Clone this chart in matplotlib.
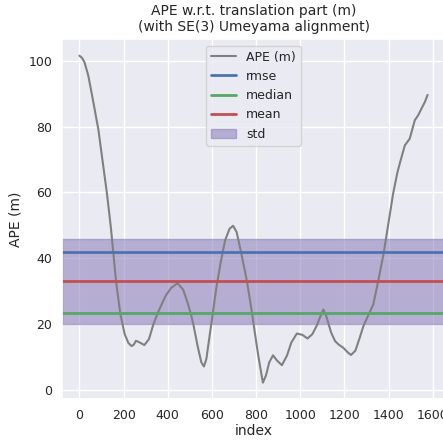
import numpy as np
import matplotlib
matplotlib.use("Agg")
import matplotlib.pyplot as plt
import seaborn as sns

# --- data ---
index = [0, 12, 23, 40, 60, 86, 105, 125, 143, 166, 185, 205, 222, 236, 246, 256,
         270, 294, 315, 335, 354, 372, 391, 415, 444, 470, 490, 504, 516, 535,
         552, 564, 575, 597, 620, 639, 660, 680, 696, 712, 732, 759, 782, 789,
         810, 831, 845, 860, 877, 895, 917, 940, 960, 985, 1010, 1033, 1055, 1075,
         1095, 1105, 1118, 1140, 1158, 1175, 1195, 1215, 1230, 1250, 1270, 1286,
         1310, 1331, 1353, 1379, 1398, 1421, 1440, 1451, 1474, 1496, 1519, 1535,
         1549, 1565, 1577]
ape = [101.5, 100.8, 99.5, 95.5, 88.5, 79.0, 69.5, 59.5, 49.0, 33.0, 23.3, 17.0,
       14.3, 13.4, 13.8, 15.0, 14.6, 13.7, 15.5, 20.0, 23.3, 26.0, 28.7, 31.0,
       32.5, 30.5, 26.5, 23.3, 20.0, 13.5, 8.5, 7.2, 9.5, 20.0, 31.0, 38.5,
       45.5, 49.0, 49.9, 48.0, 41.9, 33.0, 23.3, 20.0, 10.5, 2.3, 4.5, 8.5,
       10.6, 9.0, 7.6, 10.5, 14.5, 17.2, 16.8, 15.7, 17.0, 19.6, 23.0, 24.5,
       22.5, 17.5, 14.9, 13.8, 12.9, 11.5, 10.7, 12.0, 16.0, 19.4, 23.0, 26.0,
       33.0, 41.9, 50.0, 59.7, 66.0, 68.8, 74.3, 76.3, 81.9, 83.5, 85.4, 87.5,
       89.6]

rmse = 41.9
median = 23.3
mean = 33.0
std = 12.8

sns.set_theme(style="darkgrid")
plt.rcParams['font.family'] = ['DejaVu Sans']

fig = plt.figure(figsize=(4.43, 4.42), dpi=100)
ax = fig.add_axes([0.14, 0.0973, 0.8645, 0.8137])

ax.plot(index, ape, '-', color='gray', linewidth=1.5, label='APE (m)')
ax.axhline(rmse, color=sns.color_palette()[0], linewidth=2.0, label='rmse')
ax.axhline(median, color=sns.color_palette()[2], linewidth=2.0, label='median')
ax.axhline(mean, color=sns.color_palette()[3], linewidth=2.0, label='mean')
ax.axhspan(mean - std, mean + std, color=sns.color_palette()[4], alpha=0.5, label='std')

ax.set_xticks([0, 200, 400, 600, 800, 1000, 1200, 1400, 1600])
ax.set_yticks([0, 20, 40, 60, 80, 100])
ax.set_title('APE w.r.t. translation part (m)\n(with SE(3) Umeyama alignment)', fontsize=10)
ax.set_xlabel('index', fontsize=10, labelpad=2)
ax.set_ylabel('APE (m)', fontsize=10, labelpad=4)
ax.tick_params(labelsize=9, length=0, pad=7)
ax.legend(loc='upper center', fontsize=9)

fig.savefig('out.png', dpi=100)
